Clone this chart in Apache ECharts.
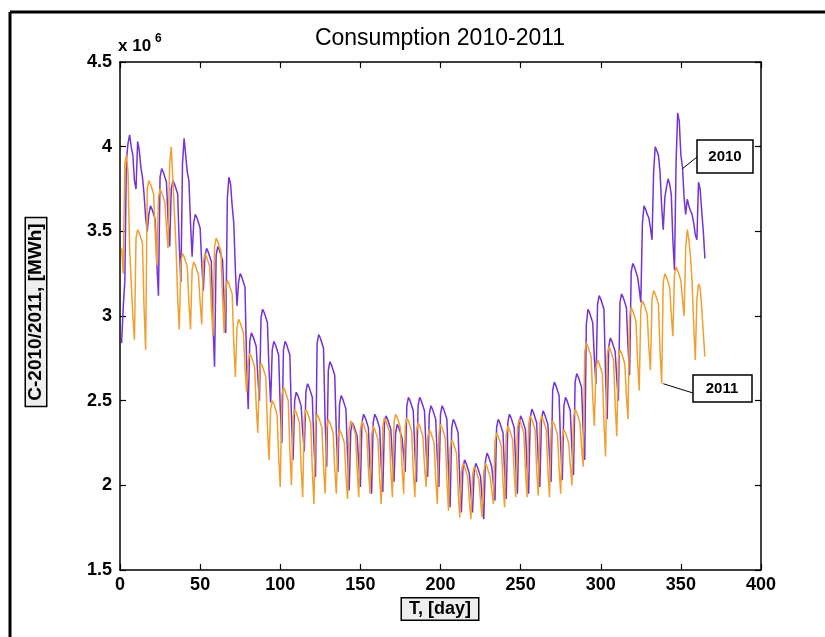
<!DOCTYPE html>
<html><head><meta charset="utf-8">
<script src="https://cdn.jsdelivr.net/npm/echarts@6/dist/echarts.min.js"></script>
<style>html,body{margin:0;padding:0;background:#fff}#c{width:825px;height:637px}</style>
</head><body><div id="c"></div>
<script>
// Daily consumption, in units of 10^6 MWh (day 1..365)
const cons2010 = [
2.84,3.05,3.20,
3.92,4.02,4.07,4.00,3.95,3.80,3.75,
4.03,3.98,3.88,3.82,3.72,3.58,3.50,
3.60,3.65,3.63,3.62,3.57,3.31,3.12,
3.82,3.87,3.85,3.84,3.79,3.57,3.41,
3.75,3.80,3.78,3.77,3.72,3.41,3.20,
3.90,4.05,3.95,3.85,3.80,3.55,3.35,
3.55,3.60,3.58,3.57,3.52,3.31,3.15,
3.35,3.40,3.38,3.37,3.32,2.95,2.70,
3.36,3.41,3.39,3.38,3.33,3.08,2.90,
3.70,3.82,3.78,3.65,3.55,3.27,3.06,
3.20,3.25,3.23,3.22,3.17,2.73,2.45,
2.85,2.90,2.88,2.87,2.82,2.64,2.50,
2.99,3.04,3.02,3.01,2.96,2.68,2.49,
2.80,2.85,2.83,2.82,2.77,2.46,2.25,
2.80,2.85,2.83,2.82,2.77,2.40,2.15,
2.50,2.55,2.53,2.52,2.47,2.32,2.20,
2.55,2.60,2.58,2.57,2.52,2.24,2.05,
2.84,2.89,2.87,2.86,2.81,2.38,2.11,
2.68,2.73,2.71,2.70,2.65,2.31,2.08,
2.48,2.53,2.51,2.50,2.45,2.17,1.97,
2.32,2.37,2.35,2.34,2.29,2.12,1.99,
2.37,2.42,2.40,2.39,2.34,2.11,1.95,
2.37,2.42,2.40,2.39,2.34,2.12,1.96,
2.36,2.41,2.39,2.38,2.33,2.16,2.02,
2.31,2.36,2.34,2.33,2.28,2.18,2.08,
2.47,2.52,2.50,2.49,2.44,2.20,2.02,
2.47,2.52,2.50,2.49,2.44,2.21,2.05,
2.42,2.47,2.45,2.44,2.39,2.16,1.99,
2.42,2.47,2.45,2.44,2.39,2.08,1.87,
2.34,2.39,2.37,2.36,2.31,2.03,1.84,
2.10,2.15,2.13,2.12,2.07,1.95,1.84,
2.08,2.13,2.11,2.10,2.05,1.92,1.80,
2.14,2.19,2.17,2.16,2.11,2.01,1.91,
2.34,2.39,2.37,2.36,2.31,2.08,1.92,
2.37,2.42,2.40,2.39,2.34,2.11,1.95,
2.36,2.41,2.39,2.38,2.33,2.11,1.95,
2.40,2.45,2.43,2.42,2.37,2.15,1.99,
2.39,2.44,2.42,2.41,2.36,2.17,2.02,
2.56,2.61,2.59,2.58,2.53,2.23,2.03,
2.47,2.52,2.50,2.49,2.44,2.22,2.06,
2.61,2.66,2.64,2.63,2.58,2.33,2.15,
2.95,3.04,3.02,3.01,2.96,2.75,2.60,
3.07,3.12,3.10,3.09,3.04,2.65,2.39,
2.82,2.87,2.85,2.84,2.79,2.63,2.50,
3.08,3.13,3.11,3.10,3.05,2.82,2.65,
3.26,3.31,3.29,3.28,3.23,3.16,3.08,
3.55,3.65,3.63,3.60,3.58,3.52,3.45,
3.85,4.00,4.00,3.95,3.85,3.65,3.51,
3.70,3.76,3.81,3.78,3.72,3.45,3.27,
3.90,4.20,4.15,3.95,3.88,3.70,3.60,
3.69,3.65,3.62,3.60,3.55,3.48,3.45,
3.79,3.75,3.62,3.50,3.34
];
const cons2011 = [
3.40,3.25,
3.90,3.95,3.85,3.40,3.20,3.00,2.86,
3.46,3.51,3.49,3.48,3.43,3.05,2.80,
3.75,3.80,3.78,3.77,3.72,3.48,3.30,
3.70,3.75,3.73,3.72,3.67,3.52,3.40,
3.90,4.00,3.80,3.60,3.40,3.10,2.92,
3.32,3.37,3.35,3.34,3.29,3.08,2.92,
3.27,3.32,3.30,3.29,3.24,3.08,2.95,
3.32,3.37,3.35,3.34,3.29,3.05,2.88,
3.41,3.46,3.44,3.43,3.38,3.10,2.90,
3.16,3.21,3.19,3.18,3.13,2.84,2.64,
2.93,2.98,2.96,2.95,2.90,2.70,2.55,
2.73,2.78,2.76,2.75,2.70,2.47,2.31,
2.67,2.72,2.70,2.69,2.64,2.35,2.15,
2.45,2.50,2.48,2.47,2.42,2.17,1.99,
2.53,2.58,2.56,2.55,2.50,2.20,2.00,
2.40,2.45,2.43,2.42,2.37,2.11,1.93,
2.40,2.45,2.43,2.42,2.37,2.09,1.89,
2.37,2.42,2.40,2.39,2.34,2.11,1.95,
2.34,2.39,2.37,2.36,2.31,2.10,1.95,
2.28,2.33,2.31,2.30,2.25,2.06,1.92,
2.33,2.38,2.36,2.35,2.30,2.09,1.93,
2.33,2.38,2.36,2.35,2.30,2.10,1.95,
2.30,2.35,2.33,2.32,2.27,2.05,1.89,
2.35,2.40,2.38,2.37,2.32,2.09,1.93,
2.37,2.42,2.40,2.39,2.34,2.11,1.95,
2.35,2.40,2.38,2.37,2.32,2.09,1.93,
2.32,2.37,2.35,2.34,2.29,2.12,1.99,
2.28,2.33,2.31,2.30,2.25,2.04,1.89,
2.31,2.36,2.34,2.33,2.28,2.03,1.85,
2.22,2.27,2.25,2.24,2.19,1.97,1.81,
2.08,2.13,2.11,2.10,2.05,1.91,1.80,
2.06,2.11,2.09,2.08,2.03,1.91,1.81,
2.08,2.13,2.11,2.10,2.05,1.97,1.89,
2.26,2.31,2.29,2.28,2.23,2.02,1.87,
2.30,2.35,2.33,2.32,2.27,2.07,1.93,
2.34,2.39,2.37,2.36,2.31,2.09,1.93,
2.36,2.41,2.39,2.38,2.33,2.10,1.94,
2.36,2.41,2.39,2.38,2.33,2.09,1.93,
2.33,2.38,2.36,2.35,2.30,2.10,1.95,
2.28,2.33,2.31,2.30,2.25,2.12,2.00,
2.40,2.45,2.43,2.42,2.37,2.23,2.11,
2.79,2.84,2.82,2.81,2.76,2.52,2.35,
2.69,2.74,2.72,2.71,2.66,2.37,2.17,
2.77,2.82,2.80,2.79,2.74,2.48,2.29,
2.75,2.80,2.78,2.77,2.72,2.53,2.39,
3.00,3.05,3.03,3.02,2.97,2.73,2.56,
3.04,3.09,3.07,3.06,3.01,2.82,2.68,
3.10,3.15,3.13,3.12,3.07,2.79,2.60,
3.20,3.25,3.23,3.22,3.17,3.01,2.88,
3.24,3.29,3.27,3.26,3.21,3.10,3.00,
3.40,3.51,3.45,3.35,3.20,2.95,2.74,
3.10,3.19,3.17,3.05,2.90,2.76
];
const xAxisRange = {min: 0, max: 400, interval: 50};
const yAxisRange = {min: 1.5, max: 4.5, interval: 0.5};
const titleText = 'Consumption 2010-2011';
const xName = 'T, [day]';
const yName = 'C-2010/2011, [MWh]';
const labels = {a: '2010', b: '2011'};

const FONT = '"Liberation Sans", Arial, Helvetica, sans-serif';
const chart = echarts.init(document.getElementById('c'), null, {renderer: 'canvas'});
const axLine = {show: true, onZero: false, lineStyle: {color: '#000', width: 1.5}};
const axTick = {show: true, inside: true, length: 6, lineStyle: {color: '#000', width: 1.2}};
const lbl = {color: '#000', fontFamily: FONT, fontWeight: 'bold', fontSize: 18};

const toPairs = arr => arr.map((v, i) => [i + 1, v]);

chart.setOption({
  animation: false,
  backgroundColor: '#fff',
  grid: {left: 120, top: 62, width: 641, height: 508, containLabel: false},
  xAxis: [
    Object.assign({type: 'value', position: 'bottom', axisLine: axLine, axisTick: axTick,
      splitLine: {show: false}, axisLabel: Object.assign({margin: 6}, lbl)}, xAxisRange),
    Object.assign({type: 'value', position: 'top', axisLine: axLine, axisTick: axTick,
      splitLine: {show: false}, axisLabel: {show: false}}, xAxisRange)
  ],
  yAxis: [
    Object.assign({type: 'value', position: 'left', axisLine: axLine, axisTick: axTick,
      splitLine: {show: false}, axisLabel: Object.assign({margin: 8}, lbl)}, yAxisRange),
    Object.assign({type: 'value', position: 'right', axisLine: axLine, axisTick: axTick,
      splitLine: {show: false}, axisLabel: {show: false}}, yAxisRange)
  ],
  series: [
    {type: 'line', name: labels.a, data: toPairs(cons2010), symbol: 'none', xAxisIndex: 0, yAxisIndex: 0,
      lineStyle: {color: '#7433d6', width: 1.5}, itemStyle: {color: '#7433d6'}, z: 2},
    {type: 'line', name: labels.b, data: toPairs(cons2011), symbol: 'none', xAxisIndex: 0, yAxisIndex: 0,
      lineStyle: {color: '#f0a030', width: 1.5}, itemStyle: {color: '#f0a030'}, z: 3}
  ],
  graphic: [
    {id: 'frameTop', type: 'line', shape: {x1: 10, y1: 12, x2: 825, y2: 12}, style: {stroke: '#000', lineWidth: 3}},
    {id: 'frameLeft', type: 'line', shape: {x1: 10, y1: 12, x2: 10, y2: 637}, style: {stroke: '#000', lineWidth: 3}},
    {id: 'title', type: 'text', x: 440, y: 39, style: {text: titleText, font: '23px ' + FONT, fill: '#000', align: 'center', verticalAlign: 'middle'}},
    {id: 'exp1', type: 'text', x: 118, y: 46, style: {text: 'x 10', font: 'bold 17px ' + FONT, fill: '#000', align: 'left', verticalAlign: 'middle'}},
    {id: 'exp2', type: 'text', x: 155, y: 39, style: {text: '6', font: 'bold 12px ' + FONT, fill: '#000', align: 'left', verticalAlign: 'middle'}},
    {id: 'ylab', type: 'text', x: 36, y: 312, rotation: Math.PI / 2,
      style: {text: yName, font: 'bold 19px ' + FONT, fill: '#000', align: 'center', verticalAlign: 'middle',
        backgroundColor: '#eeeeee', borderColor: '#000', borderWidth: 1.5, padding: [1, 5, 0, 5]}},
    {id: 'xlab', type: 'text', x: 440, y: 609,
      style: {text: xName, font: 'bold 18px ' + FONT, fill: '#000', align: 'center', verticalAlign: 'middle',
        backgroundColor: '#eeeeee', borderColor: '#000', borderWidth: 1.5, padding: [2, 7, 1, 7]}},
    {id: 'box10', type: 'rect', shape: {x: 697, y: 140, width: 56, height: 33}, style: {fill: '#fff', stroke: '#000', lineWidth: 1.5}, z: 10},
    {id: 'txt10', type: 'text', x: 725, y: 157, style: {text: labels.a, font: 'bold 15px ' + FONT, fill: '#000', align: 'center', verticalAlign: 'middle'}, z: 11},
    {id: 'box11', type: 'rect', shape: {x: 693, y: 375, width: 59, height: 27}, style: {fill: '#fff', stroke: '#000', lineWidth: 1.5}, z: 10},
    {id: 'txt11', type: 'text', x: 722, y: 389, style: {text: labels.b, font: 'bold 15px ' + FONT, fill: '#000', align: 'center', verticalAlign: 'middle'}, z: 11}
  ]
});

const p10 = chart.convertToPixel({gridIndex: 0}, [351, 3.87]);
const p11 = chart.convertToPixel({gridIndex: 0}, [339, 2.60]);
chart.setOption({
  graphic: [
    {id: 'lead10', type: 'line', shape: {x1: p10[0], y1: p10[1], x2: 697, y2: 157}, style: {stroke: '#000', lineWidth: 1}, z: 10},
    {id: 'lead11', type: 'line', shape: {x1: p11[0], y1: p11[1], x2: 693, y2: 393}, style: {stroke: '#000', lineWidth: 1}, z: 10}
  ]
});
</script></body></html>
